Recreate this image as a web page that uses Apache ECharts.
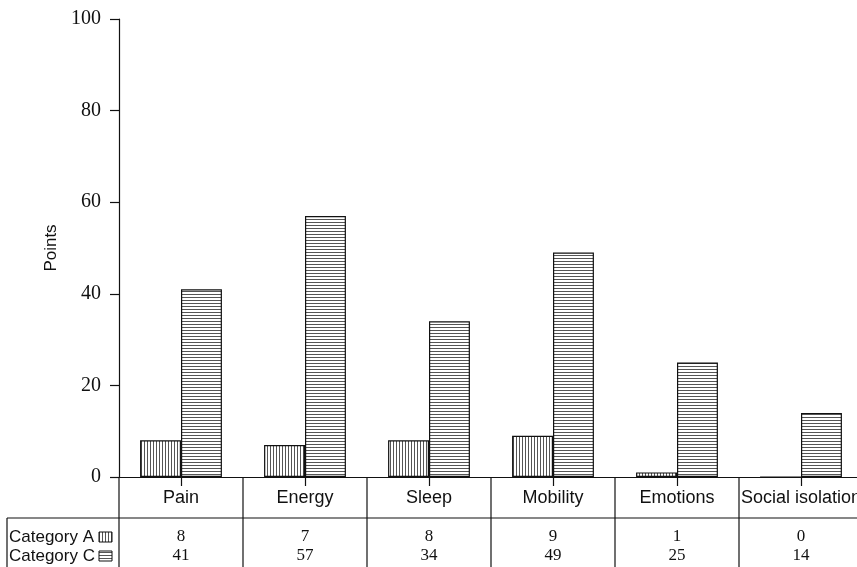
<!DOCTYPE html>
<html><head><meta charset="utf-8">
<script src="https://cdn.jsdelivr.net/npm/echarts@6/dist/echarts.min.js"></script>
<style>html,body{margin:0;padding:0;background:#fff;overflow:hidden;width:857px;height:567px}#c{width:863px;height:567px}</style>
</head><body><div id="c"></div>
<script>
var categories = ['Pain','Energy','Sleep','Mobility','Emotions','Social isolation'];
var seriesNames = ['Category A','Category C'];
var valuesA = [8,7,8,9,1,0];
var valuesC = [41,57,34,49,25,14];
var yTicks = [0,20,40,60,80,100];

function makePattern(vertical){
  var c=document.createElement('canvas'); c.width=3; c.height=3;
  var g=c.getContext('2d'); g.fillStyle='#fff'; g.fillRect(0,0,3,3);
  g.fillStyle='#555';
  if(vertical) g.fillRect(0,0,1,3); else g.fillRect(0,0,3,1);
  return c;
}
var patA={image:makePattern(true),repeat:'repeat'};
var patC={image:makePattern(false),repeat:'repeat'};

var chart=echarts.init(document.getElementById('c'),null,{renderer:'canvas'});
var serif='"Liberation Serif","Times New Roman",serif';
var sans='"Liberation Sans",Arial,sans-serif';
chart.setOption({
  animation:false,
  backgroundColor:'#fff',
  grid:{left:119,top:19,bottom:90,right:0},
  xAxis:{type:'category',data:categories,boundaryGap:true,
    axisLine:{lineStyle:{color:'#111',width:1.2}},
    axisTick:{show:true,alignWithLabel:true,length:9,lineStyle:{color:'#111',width:1.2}},
    axisLabel:{show:false},splitLine:{show:false}},
  yAxis:{type:'value',min:0,max:100,interval:20,name:'Points',nameLocation:'middle',nameGap:52,
    nameTextStyle:{fontFamily:sans,fontSize:17,color:'#111'},
    axisLine:{show:true,lineStyle:{color:'#111',width:1.2}},
    axisTick:{show:true,length:9,lineStyle:{color:'#111',width:1.2}},
    axisLabel:{fontFamily:serif,fontSize:20,color:'#111',margin:18,
      formatter:function(v){return yTicks.indexOf(v)>=0?String(v):'';}},
    splitLine:{show:false}},
  series:[
    {name:seriesNames[0],type:'bar',data:valuesA,barGap:'0%',barCategoryGap:'34%',
      itemStyle:{color:patA,borderColor:'#111',borderWidth:1.2}},
    {name:seriesNames[1],type:'bar',data:valuesC,barGap:'0%',barCategoryGap:'34%',
      itemStyle:{color:patC,borderColor:'#111',borderWidth:1.2}}
  ]
});

// table below the axis, positioned from the axis scale
var g=[];
var y0=chart.convertToPixel({yAxisIndex:0},0);
var c0=chart.convertToPixel({xAxisIndex:0},0), c1=chart.convertToPixel({xAxisIndex:0},1);
var bw=c1-c0;
var rowLine=y0+41, rowA=y0+60, rowC=y0+79, bottom=567;
var ln={stroke:'#111',lineWidth:1.2};
for(var i=0;i<=categories.length;i++){
  var bx=c0-bw/2+i*bw;
  g.push({type:'line',shape:{x1:bx,y1:y0,x2:bx,y2:bottom},style:ln,silent:true});
}
g.push({type:'line',shape:{x1:7,y1:rowLine,x2:863,y2:rowLine},style:ln});
g.push({type:'line',shape:{x1:7,y1:rowLine,x2:7,y2:bottom},style:ln});
for(var i=0;i<categories.length;i++){
  var cx=chart.convertToPixel({xAxisIndex:0},i);
  g.push({type:'text',x:cx,y:y0+21,style:{text:categories[i],font:'18px '+sans,fill:'#111',align:'center',verticalAlign:'middle'}});
  g.push({type:'text',x:cx,y:rowA,style:{text:String(valuesA[i]),font:'17px '+serif,fill:'#111',align:'center',verticalAlign:'middle'}});
  g.push({type:'text',x:cx,y:rowC,style:{text:String(valuesC[i]),font:'17px '+serif,fill:'#111',align:'center',verticalAlign:'middle'}});
}
g.push({type:'text',x:9,y:rowA,style:{text:seriesNames[0],font:'17px '+sans,fill:'#111',align:'left',verticalAlign:'middle'}});
g.push({type:'text',x:9,y:rowC,style:{text:seriesNames[1],font:'17px '+sans,fill:'#111',align:'left',verticalAlign:'middle'}});
g.push({type:'rect',shape:{x:99,y:rowA-5,width:13,height:10},style:{fill:patA,stroke:'#111',lineWidth:1}});
g.push({type:'rect',shape:{x:99,y:rowC-5,width:13,height:10},style:{fill:patC,stroke:'#111',lineWidth:1}});
chart.setOption({graphic:g});
</script></body></html>
